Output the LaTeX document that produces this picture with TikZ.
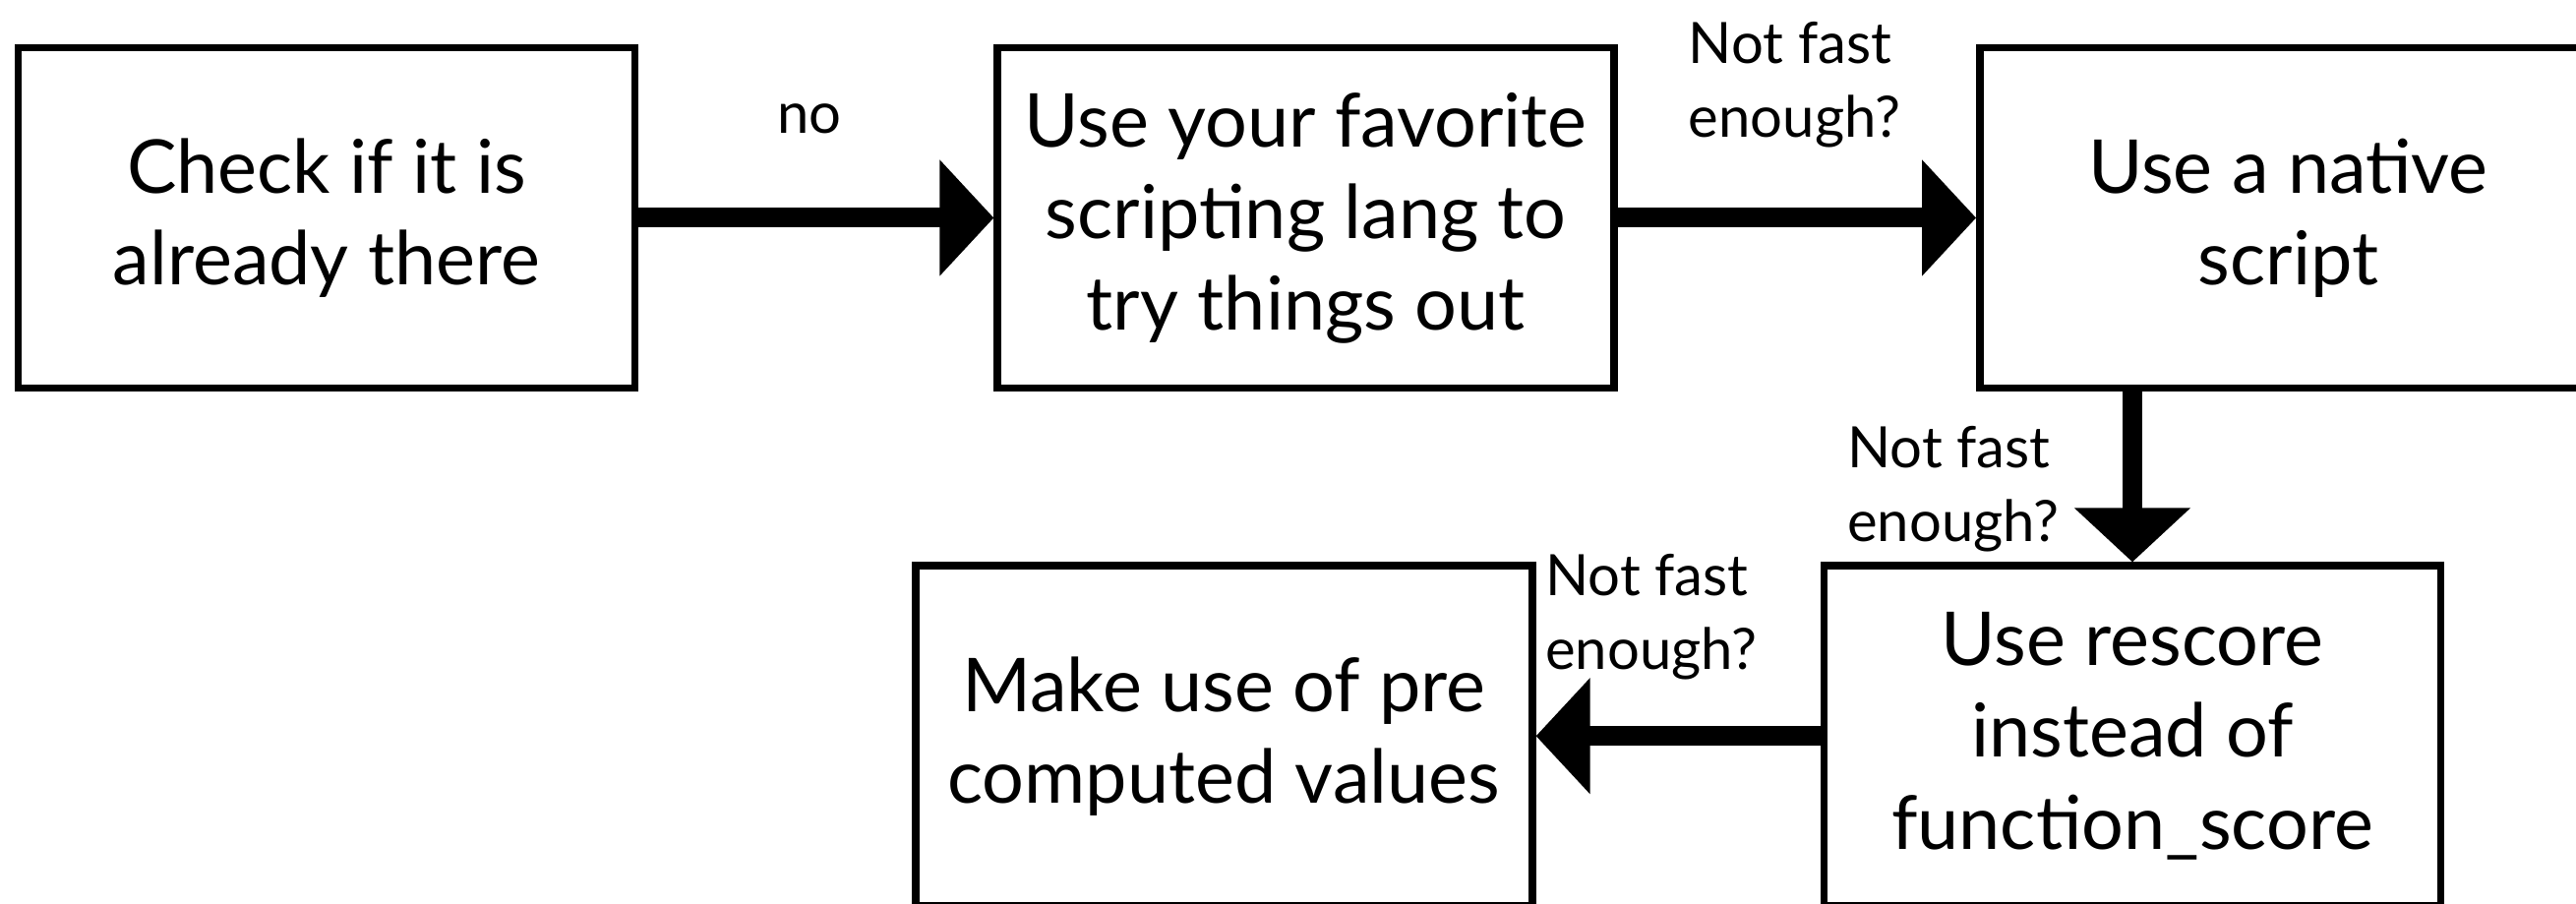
\documentclass[tikz,border=0pt]{standalone}
\usepackage{fontspec}
\setmainfont{Lato}
\usetikzlibrary{arrows.meta,positioning}
\tikzset{
  box/.style ={draw, line width=2.2pt, align=center, inner sep=0pt,
               minimum width=6.27cm, minimum height=3.46cm,
               font=\fontsize{21.5}{26.5}\selectfont},
  lbl/.style ={align=left, inner sep=0pt, font=\fontsize{16.5}{21.3}\selectfont},
  arr/.style ={-{Triangle[length=5.5mm, width=11.5mm]}, line width=5.7pt},
}
\begin{document}
\begin{tikzpicture}
  \useasboundingbox (0,0) rectangle (26.19,9.19);
  \clip (0,0) rectangle (26.19,9.19);
  % top row
  \node[box] (check) at (3.32,6.975) {Check if it is\\already there};
  \node[box, right=3.61cm of check] (fav)    {Use your favorite\\scripting lang to\\try things out};
  \node[box, right=3.64cm of fav]   (native) {Use a native\\script};
  % bottom row
  \node[box, below=1.73cm of native, xshift=-1.585cm] (rescore) {Use rescore\\instead of\\function\_score};
  \node[box, left=2.89cm of rescore] (precomp) {Make use of pre\\computed values};

  \draw[arr] (check) -- node[lbl, above=0.76cm, xshift=-0.07cm] (lno) {no} (fav);
  \draw[arr] (fav) -- (native);
  \draw[arr] (rescore.north |- native.south) -- (rescore.north);
  \draw[arr] (rescore) -- (precomp);

  \node[lbl, anchor=north west] (lnf1) at ([xshift=-2.93cm, yshift=0.23cm]native.north west) {Not fast\\enough?};
  \node[lbl, anchor=north west] (lnf2) at ([xshift=0.27cm, yshift=1.39cm]rescore.north west) {Not fast\\enough?};
  \node[lbl, anchor=north west] (lnf3) at ([xshift=0.09cm, yshift=0.09cm]precomp.north east) {Not fast\\enough?};
\end{tikzpicture}
\end{document}
